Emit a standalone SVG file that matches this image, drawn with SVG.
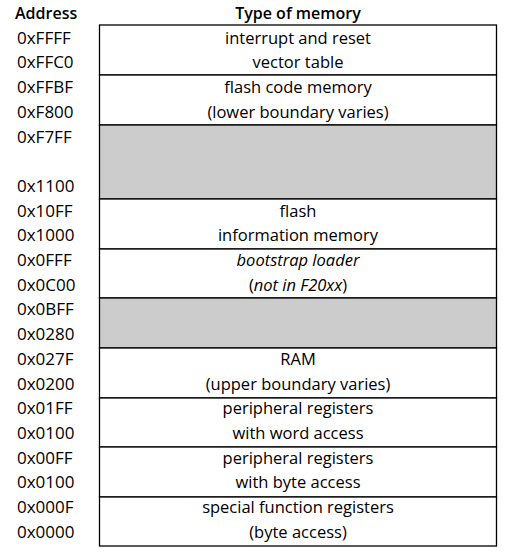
<svg xmlns="http://www.w3.org/2000/svg" width="509" height="557" viewBox="0 0 509 557">
<style>
text{font-family:"Open Sans","Noto Sans",sans-serif;font-size:16.5px;font-weight:500;fill:#000}
.a{text-anchor:start;font-size:17px}
.m{text-anchor:middle}
.h{font-weight:600;font-size:16px}
.i{font-style:italic}
.box{fill:#fff;stroke:#000;stroke-width:1.3}
.gray{fill:#cccccc;stroke:#000;stroke-width:1.3}
</style>
<rect width="509" height="557" fill="#fff"/>
<g id="header">
<text class="a h" x="15" y="19">Address</text>
<text class="m h" x="298" y="19">Type of memory</text>
</g>
<g id="ivt">
<rect class="box" x="99.5" y="25" width="397" height="50"/>
<text class="a" x="17" y="43.7">0xFFFF</text>
<text class="a" x="17" y="68.4">0xFFC0</text>
<text class="m" x="298" y="43.7">interrupt and reset</text>
<text class="m" x="298" y="68.4">vector table</text>
</g>
<g id="flashcode">
<rect class="box" x="99.5" y="75" width="397" height="50"/>
<text class="a" x="17" y="93.1">0xFFBF</text>
<text class="a" x="17" y="117.8">0xF800</text>
<text class="m" x="298" y="93.1">flash code memory</text>
<text class="m" x="298" y="117.8">(lower boundary varies)</text>
</g>
<g id="gap1">
<rect class="gray" x="99.5" y="125" width="397" height="74"/>
<text class="a" x="17" y="142.5">0xF7FF</text>
<text class="a" x="17" y="191.9">0x1100</text>
</g>
<g id="infomem">
<rect class="box" x="99.5" y="199" width="397" height="50"/>
<text class="a" x="17" y="216.6">0x10FF</text>
<text class="a" x="17" y="241.3">0x1000</text>
<text class="m" x="298" y="216.6">flash</text>
<text class="m" x="298" y="241.3">information memory</text>
</g>
<g id="boot">
<rect class="box" x="99.5" y="249" width="397" height="49"/>
<text class="a" x="17" y="266">0x0FFF</text>
<text class="a" x="17" y="290.7">0x0C00</text>
<text class="m i" x="298" y="266">bootstrap loader</text>
<text class="m" x="298" y="290.7">(<tspan class="i">not in F20xx</tspan>)</text>
</g>
<g id="gap2">
<rect class="gray" x="99.5" y="298" width="397" height="50"/>
<text class="a" x="17" y="315.4">0x0BFF</text>
<text class="a" x="17" y="340.1">0x0280</text>
</g>
<g id="ram">
<rect class="box" x="99.5" y="348" width="397" height="50"/>
<text class="a" x="17" y="364.8">0x027F</text>
<text class="a" x="17" y="389.5">0x0200</text>
<text class="m" x="298" y="364.8">RAM</text>
<text class="m" x="298" y="389.5">(upper boundary varies)</text>
</g>
<g id="perword">
<rect class="box" x="99.5" y="398" width="397" height="49"/>
<text class="a" x="17" y="414.2">0x01FF</text>
<text class="a" x="17" y="438.9">0x0100</text>
<text class="m" x="298" y="414.2">peripheral registers</text>
<text class="m" x="298" y="438.9">with word access</text>
</g>
<g id="perbyte">
<rect class="box" x="99.5" y="447" width="397" height="50"/>
<text class="a" x="17" y="463.6">0x00FF</text>
<text class="a" x="17" y="488.3">0x0100</text>
<text class="m" x="298" y="463.6">peripheral registers</text>
<text class="m" x="298" y="488.3">with byte access</text>
</g>
<g id="sfr">
<rect class="box" x="99.5" y="497" width="397" height="49"/>
<text class="a" x="17" y="513">0x000F</text>
<text class="a" x="17" y="537.7">0x0000</text>
<text class="m" x="298" y="513">special function registers</text>
<text class="m" x="298" y="537.7">(byte access)</text>
</g>
<g id="connectors"></g>
</svg>
